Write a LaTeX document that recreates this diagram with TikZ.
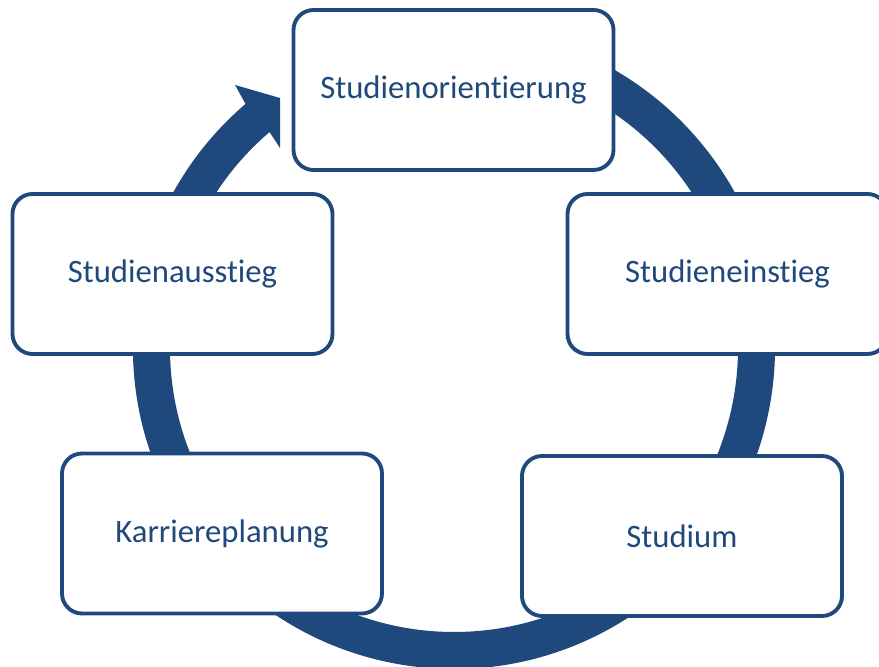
\documentclass[tikz,border=0pt]{standalone}
\usepackage{fontspec}
\setmainfont{Carlito}[Ligatures=NoCommon]
\usepackage{tikz}
\usepackage{xcolor}
\usetikzlibrary{calc}

\definecolor{ringblue}{RGB}{31,73,125}

\begin{document}
\begin{tikzpicture}[
	phase/.style={draw=ringblue, line width=2.2pt, fill=white, rounded corners=0.4cm,
		minimum width=6.4cm, minimum height=3.2cm, text=ringblue,
		font=\fontsize{18.6}{22}\selectfont}]
\useasboundingbox (0,0) rectangle (17.58,13.34);
\coordinate (C) at (9.08,6.38);
\coordinate (B1) at (4.70,11.64);
\coordinate (T) at (5.60,11.38);
\coordinate (B2) at (5.60,10.38);
% the cycle arrow
\fill[ringblue] ($(C)+(80:6.42)$) arc[start angle=80, end angle=-229.5, radius=6.42]
	-- (B1) -- (T) -- (B2) -- ($(C)+(-229.5:5.68)$)
	arc[start angle=-229.5, end angle=80, radius=5.68] -- cycle;
\node[phase] (orient) at (9.07,11.54) {Studienorientierung};
\node[phase] (einstieg) at (14.55,7.86) {Studieneinstieg};
\node[phase] (studium) at (13.64,2.62) {Studium};
\node[phase] (karriere) at (4.44,2.67) {Karriereplanung};
\node[phase] (ausstieg) at (3.45,7.86) {Studienausstieg};
\end{tikzpicture}
\end{document}
